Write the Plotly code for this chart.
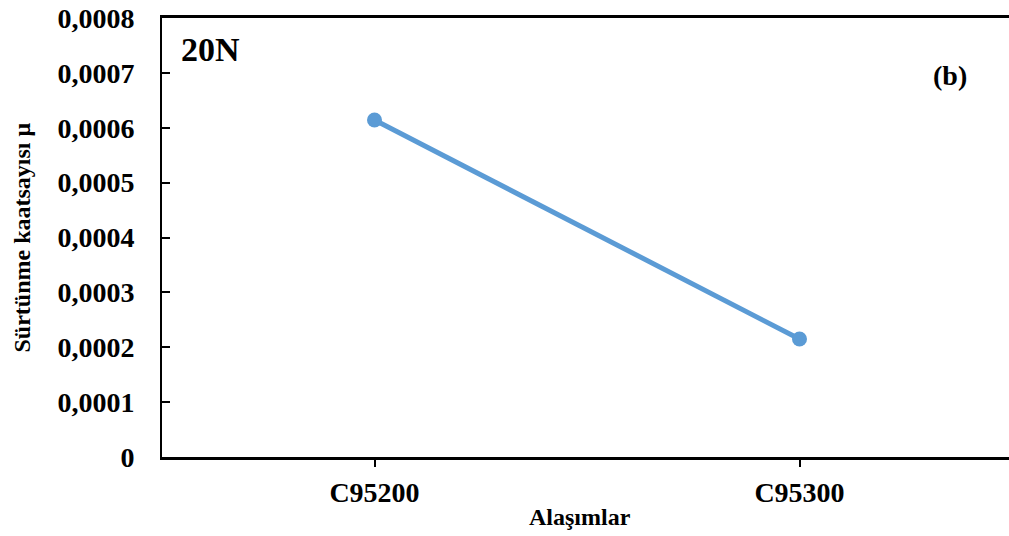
import plotly.graph_objects as go

categories = ["C95200", "C95300"]
values = [0.000614, 0.000215]
y_tickvals = [0, 0.0001, 0.0002, 0.0003, 0.0004, 0.0005, 0.0006, 0.0007, 0.0008]
y_ticktext = ["0", "0,0001", "0,0002", "0,0003", "0,0004", "0,0005", "0,0006", "0,0007", "0,0008"]

W, H = 1009, 536
L, R, T, B = 162, 0, 18, 79
pw = W - L - R
ph = H - T - B

FONT = "Liberation Serif"
fig = go.Figure()
fig.add_trace(go.Scatter(
    x=[0, 1], y=values, mode="lines+markers",
    line=dict(color="#5B9BD5", width=5),
    marker=dict(color="#5B9BD5", size=15),
    showlegend=False, cliponaxis=False,
))

fig.update_layout(
    width=W, height=H,
    margin=dict(l=L, r=R, t=T, b=B, autoexpand=False),
    paper_bgcolor="white", plot_bgcolor="white",
    font=dict(family=FONT, color="black"),
    xaxis=dict(
        range=[-0.5, -0.5 + pw / 425.0],
        tickvals=[0, 1], ticktext=["<b>%s</b>" % c for c in categories],
        showgrid=False, zeroline=False,
        showline=True, linecolor="black", linewidth=2.5, mirror=True,
        ticks="outside", ticklen=7, tickwidth=1.5, tickcolor="black",
        tickfont=dict(family=FONT, size=28, color="black"),
        ticklabelstandoff=2,
    ),
    yaxis=dict(
        range=[0, 0.0008],
        tickvals=y_tickvals, ticktext=["<b>%s</b>" % t for t in y_ticktext],
        showgrid=False, zeroline=False,
        showline=True, linecolor="black", linewidth=2,
        ticks="inside", ticklen=8, tickwidth=1.5, tickcolor="black",
        tickfont=dict(family=FONT, size=28, color="black"),
        ticklabelstandoff=20,
    ),
    annotations=[
        dict(text="<b>Sürtünme kaatsayısı μ</b>", xref="paper", yref="paper",
             x=(21 - L) / pw, y=0.5, xanchor="center", yanchor="middle",
             textangle=-90, showarrow=False,
             font=dict(family=FONT, size=24, color="black")),
        dict(text="<b>Alaşımlar</b>", xref="paper", yref="paper",
             x=(580 - L) / pw, y=-(517 - (T + ph)) / ph, xanchor="center", yanchor="middle",
             showarrow=False, font=dict(family=FONT, size=24, color="black")),
        dict(text="<b>20N</b>", xref="paper", yref="paper",
             x=(179 - L) / pw, y=1 - (49 - T) / ph, xanchor="left", yanchor="middle",
             showarrow=False, font=dict(family=FONT, size=34, color="black")),
        dict(text="<b>(b)</b>", xref="paper", yref="paper",
             x=(950 - L) / pw, y=1 - (75 - T) / ph, xanchor="center", yanchor="middle",
             showarrow=False, font=dict(family=FONT, size=28, color="black")),
    ],
)

fig.write_html("out.html", config={"displayModeBar": False},
               post_script="document.body.style.margin='0';document.body.style.padding='0';")
